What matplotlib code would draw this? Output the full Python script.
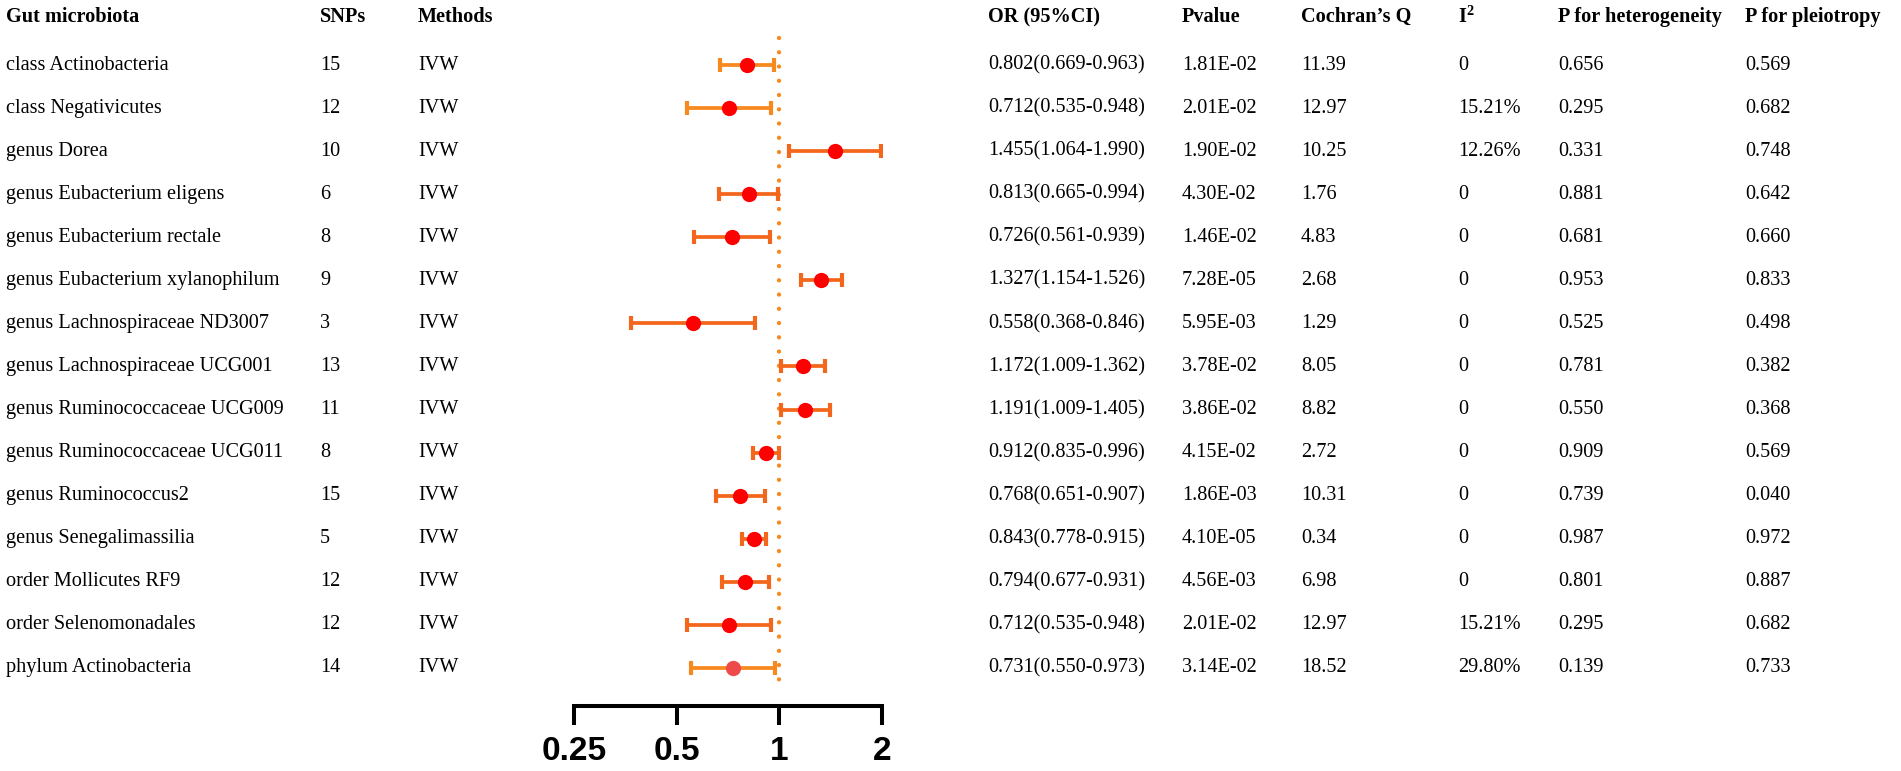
import matplotlib
matplotlib.use("Agg")
import matplotlib.pyplot as plt
from matplotlib.transforms import blended_transform_factory
import numpy as np

# ---------------- data ----------------
taxa = ["class Actinobacteria", "class Negativicutes", "genus Dorea",
        "genus Eubacterium eligens", "genus Eubacterium rectale",
        "genus Eubacterium xylanophilum", "genus Lachnospiraceae ND3007",
        "genus Lachnospiraceae UCG001", "genus Ruminococcaceae UCG009",
        "genus Ruminococcaceae UCG011", "genus Ruminococcus2",
        "genus Senegalimassilia", "order Mollicutes RF9",
        "order Selenomonadales", "phylum Actinobacteria"]
snps = [15, 12, 10, 6, 8, 9, 3, 13, 11, 8, 15, 5, 12, 12, 14]
methods = ["IVW"] * 15
or_val = [0.802, 0.712, 1.455, 0.813, 0.726, 1.327, 0.558, 1.172, 1.191,
          0.912, 0.768, 0.843, 0.794, 0.712, 0.731]
ci_low = [0.669, 0.535, 1.064, 0.665, 0.561, 1.154, 0.368, 1.009, 1.009,
          0.835, 0.651, 0.778, 0.677, 0.535, 0.550]
ci_high = [0.963, 0.948, 1.990, 0.994, 0.939, 1.526, 0.846, 1.362, 1.405,
           0.996, 0.907, 0.915, 0.931, 0.948, 0.973]
pvalue = ["1.81E-02", "2.01E-02", "1.90E-02", "4.30E-02", "1.46E-02",
          "7.28E-05", "5.95E-03", "3.78E-02", "3.86E-02", "4.15E-02",
          "1.86E-03", "4.10E-05", "4.56E-03", "2.01E-02", "3.14E-02"]
cochran_q = ["11.39", "12.97", "10.25", "1.76", "4.83", "2.68", "1.29",
             "8.05", "8.82", "2.72", "10.31", "0.34", "6.98", "12.97", "18.52"]
i2 = ["0", "15.21%", "12.26%", "0", "0", "0", "0", "0", "0", "0", "0", "0",
      "0", "15.21%", "29.80%"]
p_het = ["0.656", "0.295", "0.331", "0.881", "0.681", "0.953", "0.525",
         "0.781", "0.550", "0.909", "0.739", "0.987", "0.801", "0.295", "0.139"]
p_pleio = ["0.569", "0.682", "0.748", "0.642", "0.660", "0.833", "0.498",
           "0.382", "0.368", "0.569", "0.040", "0.972", "0.887", "0.682", "0.733"]
x_ticks = [0.25, 0.5, 1, 2]
x_ticklabels = ["0.25", "0.5", "1", "2"]

# ---------------- style ----------------
LIGHT = "#F7891F"
DARK = "#F4661B"
bar_colors = [LIGHT, LIGHT] + [DARK] * 12 + [LIGHT]
dot_colors = ["#FF0000"] * 14 + ["#EE4A4A"]

plt.rcParams["font.family"] = ["Liberation Serif", "DejaVu Serif"]
plt.rcParams["mathtext.fontset"] = "custom"
plt.rcParams["mathtext.rm"] = "Liberation Serif"
plt.rcParams["mathtext.bf"] = "Liberation Serif:bold"

W, H = 1901, 771
fig = plt.figure(figsize=(W / 100, H / 100), dpi=100)

row0_px, row_step = 65.0, 43.07
top_px, bottom_px = 38.0, 706.0
left_px, right_px = 574.0, 882.0

ax = fig.add_axes([left_px / W, (H - bottom_px) / H,
                   (right_px - left_px) / W, (bottom_px - top_px) / H])
ax.set_xscale("log", base=2)
ax.set_xlim(0.25, 2)
ax.set_ylim((bottom_px - row0_px) / row_step, (top_px - row0_px) / row_step)

ypos = np.arange(len(taxa))

# reference line
dot_end = (693 - row0_px) / row_step
ax.plot([1, 1], [(top_px - row0_px) / row_step, dot_end], color=LIGHT,
        lw=3.1, linestyle=(0, (0.01, 3.3)), dash_capstyle="round",
        solid_capstyle="round", zorder=1, clip_on=False)

for i in range(len(taxa)):
    lo, hi = ci_low[i], ci_high[i]
    ax.errorbar(or_val[i], ypos[i],
                xerr=[[or_val[i] - lo], [hi - or_val[i]]],
                fmt="none", ecolor=bar_colors[i], elinewidth=2.7,
                capsize=4.8, capthick=3.0, zorder=2)
    ax.plot(or_val[i], ypos[i], "o", color=dot_colors[i], ms=11,
            mec="none", zorder=3)

for s in ["top", "right", "left"]:
    ax.spines[s].set_visible(False)
ax.spines["bottom"].set_linewidth(2.9)
ax.spines["bottom"].set_capstyle("projecting")
ax.set_yticks([])
ax.xaxis.set_minor_locator(matplotlib.ticker.NullLocator())
ax.set_xticks(x_ticks)
ax.set_xticklabels(x_ticklabels)
ax.tick_params(axis="x", length=13.5, width=2.9, direction="out", pad=8)
for lab in ax.get_xticklabels():
    lab.set_fontfamily("Liberation Sans")
    lab.set_fontweight("bold")
    lab.set_fontsize(24)

# ---------------- table text ----------------
tr = blended_transform_factory(fig.transFigure, ax.transData)
header_y = (17 - row0_px) / row_step
fs = 14.6

col_x = [6, 320, 418, 988, 1182, 1301, 1458, 1558, 1745]
headers = ["Gut microbiota", "SNPs", "Methods", "OR (95%CI)", "Pvalue",
           "Cochran\u2019s Q", r"$\mathbf{I}^{\mathbf{2}}$",
           "P for heterogeneity", "P for pleiotropy"]
for x, h in zip(col_x, headers):
    ax.text(x / W, header_y, h, transform=tr, ha="left", va="center",
            fontsize=fs, fontweight="bold", clip_on=False)

or_text = [f"{o:.3f}({l:.3f}-{u:.3f})" for o, l, u in zip(or_val, ci_low, ci_high)]
columns = [taxa, [str(s) for s in snps], methods, or_text, pvalue,
           cochran_q, i2, p_het, p_pleio]
for x, col in zip(col_x, columns):
    for i, v in enumerate(col):
        ax.text(x / W, ypos[i], v, transform=tr, ha="left", va="center",
                fontsize=fs, clip_on=False)

fig.savefig("out.png", dpi=100)
